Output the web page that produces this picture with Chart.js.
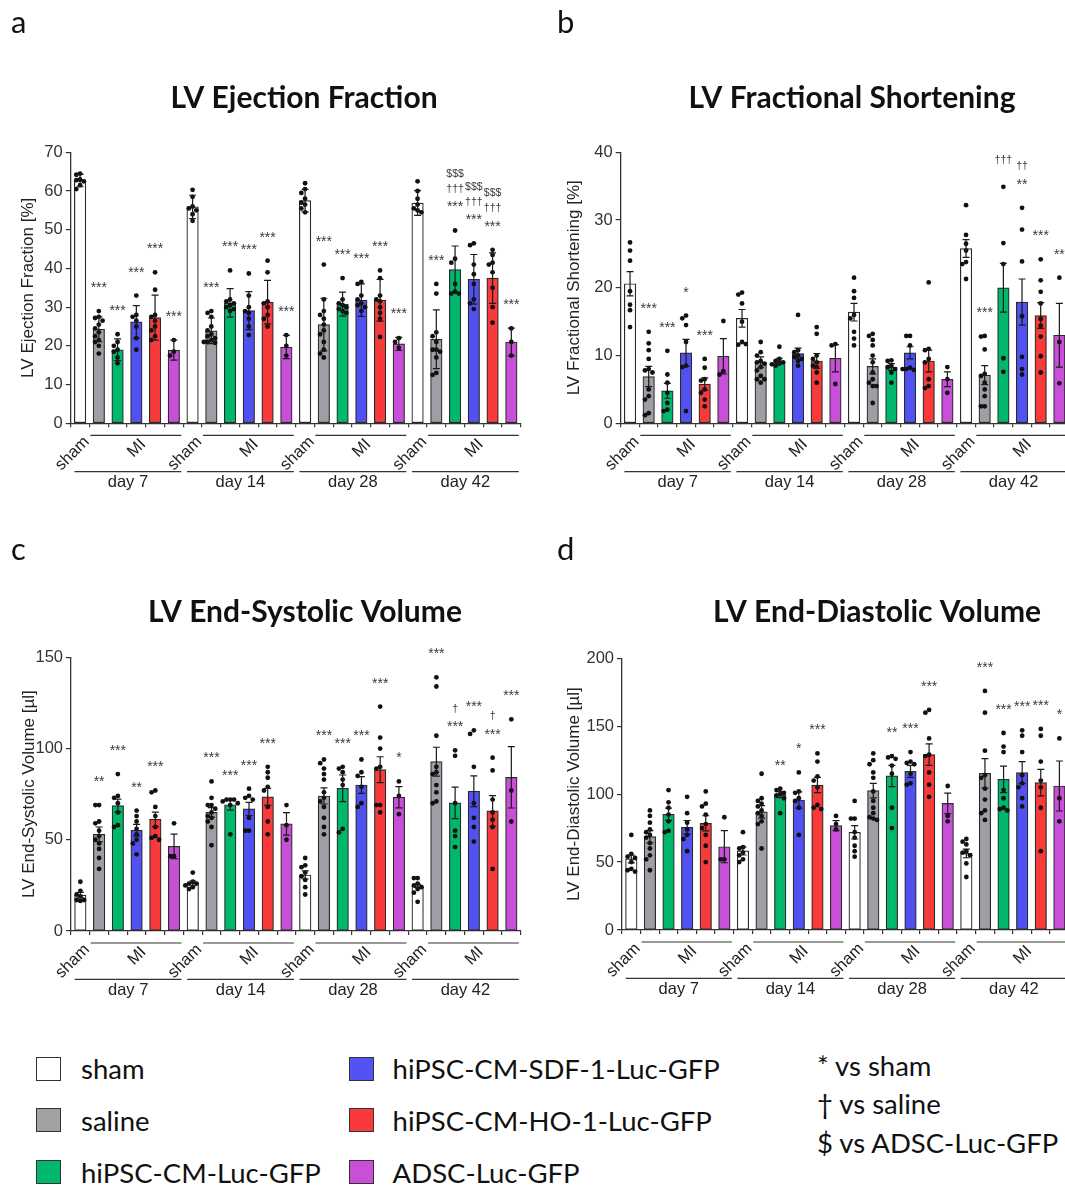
<!DOCTYPE html>
<html>
<head>
<meta charset="utf-8">
<script src="https://cdn.jsdelivr.net/npm/chart.js@4.4.1/dist/chart.umd.min.js"></script>
<style>
html, body { margin: 0; padding: 0; background: #fff; width: 1065px; height: 1189px; overflow: hidden; position: relative; }
canvas { position: absolute; }
.leg { position: absolute; font: 27.5px Lato; color: #111; line-height: 28px; white-space: nowrap; }
.sw { position: absolute; width: 23.5px; height: 22px; border: 1.5px solid #333; }
</style>
</head>
<body>
<canvas id="cA" width="530" height="505" style="left:0;top:0"></canvas>
<canvas id="cB" width="545" height="505" style="left:530px;top:0"></canvas>
<canvas id="cC" width="530" height="505" style="left:0;top:507px"></canvas>
<canvas id="cD" width="545" height="505" style="left:530px;top:507px"></canvas>

<div class="sw" style="left:35.5px;top:1056.7px;background:#ffffff"></div>
<div class="leg" style="left:81px;top:1055.2px">sham</div>
<div class="sw" style="left:35.5px;top:1108.3px;background:#a3a1a6"></div>
<div class="leg" style="left:81px;top:1106.9px">saline</div>
<div class="sw" style="left:35.5px;top:1160px;background:#00b86b"></div>
<div class="leg" style="left:81px;top:1158.6px">hiPSC-CM-Luc-GFP</div>
<div class="sw" style="left:348.5px;top:1056.7px;background:#5353f4"></div>
<div class="leg" style="left:392.6px;top:1055.2px">hiPSC-CM-SDF-1-Luc-GFP</div>
<div class="sw" style="left:348.5px;top:1108.3px;background:#fa3a3a"></div>
<div class="leg" style="left:392.6px;top:1106.9px">hiPSC-CM-HO-1-Luc-GFP</div>
<div class="sw" style="left:348.5px;top:1160px;background:#c850d8"></div>
<div class="leg" style="left:392.6px;top:1158.6px">ADSC-Luc-GFP</div>
<div class="leg" style="left:817px;top:1051.9px">* vs sham</div>
<div class="leg" style="left:817px;top:1090.2px">† vs saline</div>
<div class="leg" style="left:817px;top:1128.5px">$ vs ADSC-Luc-GFP</div>

<script>
// --- DONNÉES ---
const groups = ['sham', 'saline', 'hiPSC-CM-Luc-GFP', 'hiPSC-CM-SDF-1-Luc-GFP', 'hiPSC-CM-HO-1-Luc-GFP', 'ADSC-Luc-GFP'];
const days = ['day 7', 'day 14', 'day 28', 'day 42'];
const groupColors = ['#ffffff', '#a09ea4', '#00b86c', '#5151f2', '#f83a3a', '#c84fd8'];

// a: ejection fraction (mean, error, single animals, significance)
const efMean = [62.7, 24.3, 19.0, 26.2, 27.3, 18.9, 55.9, 23.9, 31.1, 29.1, 31.3, 19.7, 57.5, 25.5, 30.8, 31.8, 31.8, 20.5, 56.9, 21.7, 39.7, 37.2, 37.5, 21.0];
const efErr = [1.6, 3.2, 2.8, 4.2, 5.8, 2.6, 3.0, 3.3, 3.7, 4.9, 5.6, 3.0, 2.9, 6.8, 3.1, 4.2, 5.4, 1.7, 3.2, 7.6, 6.1, 6.4, 6.5, 3.6];
const efDots = [
  [64.5, 64.2, 63.0, 62.8, 62.5, 61.5, 60.5],
  [29.0, 27.5, 27.2, 26.5, 25.5, 24.5, 23.5, 22.5, 21.5, 21.0, 20.0, 18.0],
  [23.0, 21.0, 20.0, 19.0, 18.5, 17.0, 15.5],
  [33.0, 28.0, 27.5, 26.5, 25.0, 22.0, 19.0],
  [39.0, 34.5, 28.0, 27.5, 26.5, 25.0, 24.0, 22.5, 21.5],
  [21.5, 18.5, 17.5],
  [60.3, 58.5, 56.0, 55.5, 55.0, 54.0, 52.3],
  [29.0, 28.5, 27.5, 25.0, 24.0, 23.0, 22.5, 22.0, 21.5, 21.0, 21.0, 20.8],
  [39.5, 32.0, 31.5, 31.0, 30.5, 30.0, 29.5, 29.0],
  [38.7, 33.0, 30.0, 29.0, 28.5, 27.0, 25.0, 22.8],
  [42.0, 39.0, 31.5, 31.0, 30.0, 28.0, 27.0, 25.0],
  [22.8, 20.0, 17.5],
  [62.0, 60.5, 59.5, 58.0, 57.0, 56.5, 55.5, 54.5],
  [41.0, 32.0, 29.0, 28.0, 27.0, 25.5, 24.0, 23.0, 21.0, 19.0, 18.0, 17.0],
  [37.5, 32.0, 31.0, 30.5, 30.0, 29.5, 29.0, 28.5],
  [36.5, 36.0, 33.0, 32.0, 31.0, 30.5, 30.0, 29.0],
  [39.5, 37.5, 33.0, 32.0, 31.5, 30.0, 28.5, 27.0, 22.3],
  [22.0, 21.0, 19.5],
  [62.5, 60.0, 58.0, 56.5, 55.5, 55.0, 54.5],
  [36.0, 33.5, 23.5, 22.5, 21.0, 19.0, 19.0, 18.5, 17.0, 13.0, 12.5],
  [49.8, 42.5, 41.5, 36.0, 34.0, 33.5, 33.5],
  [46.5, 46.0, 41.0, 38.5, 36.0, 32.0, 31.0, 29.5],
  [44.8, 43.5, 41.5, 41.0, 39.0, 35.0, 30.0, 26.0],
  [24.5, 21.0, 17.5]
];
const efMarks = [
  [], ['***'], ['***'], ['***'], ['***'], ['***'],
  [], ['***'], ['***'], ['***'], ['***'], ['***'],
  [], ['***'], ['***'], ['***'], ['***'], ['***'],
  [], ['***'], ['***', '†††', '$$$'], ['***', '†††', '$$$'], ['***', '†††', '$$$'], ['***']
];

// b: fractional shortening
const fsMean = [20.6, 6.9, 4.8, 10.4, 5.8, 9.9, 15.5, 9.0, 9.2, 10.3, 9.2, 9.6, 16.4, 8.4, 8.3, 10.4, 9.2, 6.5, 25.8, 7.1, 20.0, 17.9, 15.9, 13.0];
const fsErr = [1.8, 1.5, 1.1, 2.0, 0.9, 2.6, 1.3, 0.8, 0.4, 0.8, 1.1, 2.0, 1.3, 1.1, 0.5, 0.9, 1.6, 1.1, 1.3, 1.4, 3.6, 3.4, 1.9, 4.7];
const fsDots = [
  [26.7, 25.5, 24.0, 19.5, 17.5, 16.7, 14.2],
  [13.5, 11.8, 10.8, 9.5, 8.0, 7.8, 7.5, 5.0, 4.0, 3.5, 1.5, 1.2],
  [10.7, 7.2, 6.0, 4.5, 3.0, 2.0, 1.8],
  [15.9, 15.5, 14.5, 12.0, 8.5, 8.3, 1.8],
  [9.5, 8.2, 6.5, 6.3, 5.0, 4.5, 3.5, 2.5],
  [15.1, 7.7, 7.2],
  [19.3, 19.0, 17.7, 15.0, 12.0, 11.6, 11.7],
  [12.0, 10.5, 10.0, 9.2, 9.0, 8.8, 8.3, 7.8, 7.0, 6.5, 6.5, 6.0],
  [11.3, 9.5, 9.2, 9.0, 8.8, 8.7, 8.5],
  [16.0, 10.8, 10.5, 10.0, 9.8, 9.5, 9.2, 8.5],
  [14.2, 13.2, 10.0, 9.5, 9.0, 8.5, 8.3, 7.5, 6.0],
  [11.7, 11.5, 5.8],
  [21.5, 19.5, 18.5, 16.0, 15.5, 13.5, 12.5, 11.5],
  [13.2, 12.9, 12.3, 11.5, 10.0, 9.0, 7.5, 6.5, 6.0, 5.5, 5.5, 3.0],
  [9.3, 9.2, 8.5, 8.3, 8.0, 7.5, 6.0],
  [12.9, 12.9, 11.5, 8.2, 8.0, 7.9, 8.0],
  [20.8, 11.0, 10.8, 9.5, 9.0, 6.5, 5.5, 5.2],
  [8.3, 6.5, 4.5],
  [32.2, 27.8, 26.5, 25.5, 23.8, 23.5, 21.3],
  [12.9, 12.8, 10.9, 7.3, 7.0, 6.0, 5.0, 4.0, 2.5, 2.5],
  [34.9, 26.6, 23.5, 9.6, 7.6],
  [31.8, 28.6, 23.9, 15.8, 9.8, 8.0, 7.2],
  [24.2, 21.1, 19.4, 17.7, 15.4, 14.4, 12.8, 9.9, 7.5],
  [21.5, 12.0, 5.9]
];
const fsMarks = [
  [], ['***'], ['***'], ['*'], ['***'], [],
  [], [], [], [], [], [],
  [], [], [], [], [], [],
  [], ['***'], ['†††'], ['**', '††'], ['***'], ['**']
];

// c: end-systolic volume
const esvMean = [19.7, 53.0, 68.7, 55.2, 61.2, 46.4, 26.1, 65.0, 69.2, 66.9, 73.5, 58.7, 30.7, 74.0, 78.2, 80.0, 88.4, 73.3, 24.7, 92.8, 70.2, 76.6, 65.8, 84.2];
const esvErr = [1.5, 4.0, 3.6, 3.2, 4.0, 6.7, 1.3, 2.6, 3.0, 3.6, 4.7, 6.2, 2.2, 4.4, 7.3, 4.6, 7.1, 5.8, 0.9, 7.9, 8.6, 8.4, 8.4, 16.8];
const esvDots = [
  [27, 22, 20, 19, 17, 17, 16.5],
  [69, 69, 60, 59, 55, 52, 50, 48, 45, 40, 34],
  [86, 74, 73, 70, 65, 58, 57],
  [66, 63, 60, 56, 53, 50, 48, 42],
  [77, 76, 68, 63, 57, 52, 51, 50],
  [59, 41, 41],
  [32, 27, 26, 26, 25, 24, 23],
  [82, 73, 69, 69, 67, 65, 63, 62, 60, 57, 47],
  [72, 72, 72, 71, 70, 69, 53],
  [78, 74, 73, 72, 62, 55, 55],
  [90, 87, 84, 79, 77, 68, 60, 53],
  [69, 58, 50],
  [40, 36, 35, 32, 30, 28, 24, 20],
  [94, 92, 89, 86, 83, 76, 73, 71, 68, 62, 57, 53],
  [90, 89, 87, 83, 80, 56, 54],
  [94, 87, 85, 79, 70, 68],
  [123, 106, 100, 90, 89, 69, 69, 65],
  [82, 74, 64],
  [29, 29, 26, 25, 24, 23, 21, 16],
  [139, 134, 107, 90, 87, 86, 80, 76, 71, 70],
  [99, 96, 70, 55, 52, 46],
  [110, 108, 90, 70, 62, 57, 49],
  [95, 88, 72, 65, 61, 57, 34],
  [116, 77, 60]
];
const esvMarks = [
  [], ['**'], ['***'], ['**'], ['***'], [],
  [], ['***'], ['***'], ['***'], ['***'], [],
  [], ['***'], ['***'], ['***'], ['***'], ['*'],
  [], ['***'], ['***', '†'], ['***'], ['***', '†'], ['***']
];

// d: end-diastolic volume
const edvMean = [52.3, 68.7, 85.2, 75.6, 78.5, 61.3, 58.2, 86.9, 99.6, 95.7, 106.7, 76.8, 71.9, 102.6, 113.4, 116.8, 129.1, 93.2, 56.4, 115.3, 110.9, 115.8, 108.5, 106.0];
const edvErr = [2.9, 4.5, 4.5, 5.0, 5.6, 11.8, 3.0, 4.6, 2.2, 6.0, 5.6, 3.7, 4.9, 5.4, 7.8, 4.4, 7.9, 7.6, 3.2, 10.8, 9.8, 8.1, 9.8, 18.4];
const edvDots = [
  [70, 56, 54, 53, 50, 45, 44, 43],
  [88, 84, 79, 74, 72, 70, 68, 64, 60, 55, 52, 44],
  [103, 94, 90, 85, 80, 73, 72],
  [98, 86, 79, 74, 70, 67, 58],
  [102, 93, 91, 85, 78, 75, 70, 62, 50],
  [83, 52, 52],
  [72, 61, 60, 57, 55, 52, 50],
  [115, 97, 95, 93, 91, 88, 86, 84, 80, 78, 60],
  [104, 103, 101, 100, 99, 97, 86],
  [116, 102, 101, 97, 95, 90, 70],
  [130, 124, 113, 110, 105, 92, 90, 89],
  [84, 78, 74],
  [95, 82, 82, 72, 68, 62, 58, 54],
  [130, 125, 122, 116, 112, 102, 95, 90, 86, 83, 82, 81],
  [128, 127, 126, 121, 115, 90, 75],
  [131, 124, 123, 122, 115, 108, 107],
  [162, 160, 141, 129, 128, 116, 107, 98],
  [106, 84, 80],
  [67, 65, 63, 58, 57, 55, 49, 39],
  [176, 160, 132, 114, 112, 104, 96, 88, 86, 81],
  [145, 135, 131, 103, 97, 90, 89, 88],
  [147, 143, 131, 114, 108, 105, 97, 91],
  [148, 143, 124, 110, 105, 90, 58],
  [141, 97, 80]
];
const edvMarks = [
  [], [], [], [], [], [],
  [], [], ['**'], ['*'], ['***'], [],
  [], [], ['**'], ['***'], ['***'], [],
  [], ['***'], ['***'], ['***'], ['***'], ['*']
];

// --- PANNEAUX ---
const panels = [
  { id: 'cA', letter: 'a', letterX: 11, letterY: 33, title: 'LV Ejection Fraction', titleX: 304, titleY: 108, yTitle: 'LV Ejection Fraction [%]',
    yMax: 70, yStep: 10, mean: efMean, err: efErr, dots: efDots, marks: efMarks,
    areaLeft: 70.7, areaRight: 520.7, areaTop: 152.3, areaBottom: 423.3, yTitlePad: 17.8 },
  { id: 'cB', letter: 'b', letterX: 27, letterY: 33, title: 'LV Fractional Shortening', titleX: 322, titleY: 108, yTitle: 'LV Fractional Shortening [%]',
    yMax: 40, yStep: 10, mean: fsMean, err: fsErr, dots: fsDots, marks: fsMarks,
    areaLeft: 90.7, areaRight: 538.7, areaTop: 152.3, areaBottom: 423.3, yTitlePad: 33.8 },
  { id: 'cC', letter: 'c', letterX: 11, letterY: 53, title: 'LV End-Systolic Volume', titleX: 305, titleY: 115, yTitle: 'LV End-Systolic Volume [µl]',
    yMax: 150, yStep: 50, mean: esvMean, err: esvErr, dots: esvDots, marks: esvMarks,
    areaLeft: 71, areaRight: 520.7, areaTop: 150.3, areaBottom: 424, yTitlePad: 19.3 },
  { id: 'cD', letter: 'd', letterX: 27, letterY: 53, title: 'LV End-Diastolic Volume', titleX: 347, titleY: 115, yTitle: 'LV End-Diastolic Volume [µl]',
    yMax: 200, yStep: 50, mean: edvMean, err: edvErr, dots: edvDots, marks: edvMarks,
    areaLeft: 92, areaRight: 538.7, areaTop: 151.3, areaBottom: 423, yTitlePad: 33.8 }
];

// étale les points proches horizontalement (comme GraphPad)
function spread(vals, i, span) {
  const placed = [];
  return vals.map(v => {
    const used = new Set(placed.filter(q => Math.abs(q.v - v) < span * 0.016).map(q => q.k));
    const k = [0, -1, 1, -2, 2].find(n => !used.has(n)) ?? 0;
    placed.push({ v, k });
    return { x: i + k * 0.2, y: v };
  });
}

const AX = '#333';
const FONT = '"Liberation Sans", Arial, sans-serif';

function makeDecor(p) {
  return {
    id: 'decor_' + p.id,
    afterDatasetsDraw(chart) {
      const { ctx } = chart;
      const x = chart.scales.x, y = chart.scales.y;
      ctx.save();
      ctx.strokeStyle = '#1a1a1a';
      ctx.lineWidth = 1.2;
      p.mean.forEach((m, i) => {
        const cx = x.getPixelForValue(i);
        const hi = y.getPixelForValue(m + p.err[i]);
        const lo = y.getPixelForValue(Math.max(0, m - p.err[i]));
        ctx.beginPath();
        ctx.moveTo(cx, lo); ctx.lineTo(cx, hi);
        ctx.moveTo(cx - 3.5, hi); ctx.lineTo(cx + 3.5, hi);
        ctx.moveTo(cx - 3.5, lo); ctx.lineTo(cx + 3.5, lo);
        ctx.stroke();
      });
      ctx.restore();
    },
    afterDraw(chart) {
      const { ctx } = chart;
      const x = chart.scales.x, y = chart.scales.y;
      const y0 = chart.chartArea.bottom;
      ctx.save();
      // lettre + titre
      ctx.fillStyle = '#111';
      ctx.textAlign = 'left';
      ctx.textBaseline = 'alphabetic';
      ctx.font = '31px Lato';
      ctx.fillText(p.letter, p.letterX, p.letterY);
      ctx.textAlign = 'center';
      ctx.font = 'bold 30px Lato';
      ctx.fillText(p.title, p.titleX, p.titleY);

      // étiquettes de groupes
      ctx.strokeStyle = AX;
      ctx.lineWidth = 1.2;
      ctx.fillStyle = '#222';
      ctx.font = '16.5px ' + FONT;
      days.forEach((d, g) => {
        const b = g * 6;
        ctx.beginPath();
        ctx.moveTo(x.getPixelForValue(b + 0.55), y0 + 12);
        ctx.lineTo(x.getPixelForValue(b + 5.4), y0 + 12);
        ctx.moveTo(x.getPixelForValue(b - 0.3), y0 + 48.4);
        ctx.lineTo(x.getPixelForValue(b + 5.4), y0 + 48.4);
        ctx.stroke();
        ctx.textAlign = 'center';
        ctx.textBaseline = 'middle';
        ctx.fillText(d, x.getPixelForValue(b + 2.55), y0 + 59);

        ctx.save();
        ctx.translate(x.getPixelForValue(b + 3.03), y0 + 25);
        ctx.rotate(-Math.PI / 4);
        ctx.fillText('MI', 0, 0);
        ctx.restore();

        ctx.save();
        ctx.translate(x.getPixelForValue(b + 0.35), y0 + 16);
        ctx.rotate(-Math.PI / 4);
        ctx.textAlign = 'right';
        ctx.fillText(groups[0], 0, 0);
        ctx.restore();
      });

      // significativité
      ctx.fillStyle = '#3a3a3a';
      ctx.textAlign = 'center';
      ctx.textBaseline = 'alphabetic';
      p.marks.forEach((lines, i) => {
        if (!lines.length) return;
        const top = Math.max(p.mean[i] + p.err[i], ...p.dots[i]);
        let yc = y.getPixelForValue(top) - 27;
        const cx = x.getPixelForValue(i);
        lines.forEach(t => {
          const star = t[0] === '*';
          const fs = star ? 14 : 10.5;
          ctx.font = fs + 'px ' + FONT;
          ctx.fillText(t, cx, yc + fs * (star ? 0.57 : 0.33));
          yc -= 15;
        });
      });
      ctx.restore();
    }
  };
}

function makeChart(p) {
  const canvas = document.getElementById(p.id);
  const H = canvas.height, W = canvas.width;
  const bars = p.mean.map((m, i) => ({ x: i, y: m }));
  const dots = [];
  p.dots.forEach((vals, i) => dots.push(...spread(vals, i, p.yMax)));

  return new Chart(canvas, {
    type: 'bar',
    data: {
      datasets: [
        { type: 'bar', data: bars, order: 2,
          backgroundColor: p.mean.map((_, i) => groupColors[i % groups.length]),
          borderColor: '#2a2a2a', borderWidth: 1.2, borderSkipped: false, barThickness: 11.5 },
        { type: 'scatter', data: dots, order: 1,
          pointRadius: 2.4, pointBackgroundColor: '#111', pointBorderWidth: 0 }
      ]
    },
    options: {
      responsive: false,
      animation: false,
      devicePixelRatio: 1,
      events: [],
      layout: { padding: { left: 0, right: W - p.areaRight, top: p.areaTop, bottom: 0 } },
      plugins: { legend: { display: false }, tooltip: { enabled: false }, title: { display: false } },
      scales: {
        x: {
          type: 'linear', min: -0.5, max: 23.5, offset: false,
          afterBuildTicks: s => { s.ticks = p.mean.map((_, i) => ({ value: i })); },
          afterFit: s => { s.height = H - p.areaBottom; },
          ticks: { display: false },
          grid: { drawOnChartArea: false, drawTicks: true, tickLength: 4, color: AX, lineWidth: 1.2 },
          border: { color: AX, width: 1.3 }
        },
        y: {
          min: 0, max: p.yMax,
          afterFit: s => { s.width = p.areaLeft; },
          ticks: { stepSize: p.yStep, color: AX, padding: 3, font: { family: FONT, size: 16.5 } },
          grid: { drawOnChartArea: false, tickLength: 5, color: AX, lineWidth: 1.2 },
          border: { color: AX, width: 1.3 },
          title: { display: true, text: p.yTitle, color: '#222', font: { family: FONT, size: 17 },
                   padding: { top: p.yTitlePad, bottom: 0 } }
        }
      }
    },
    plugins: [makeDecor(p)]
  });
}

// --- INITIALISATION ---
document.fonts.load('30px Lato').then(() => document.fonts.load('bold 30px Lato')).finally(() => {
  panels.forEach(makeChart);
});
</script>
</body>
</html>
